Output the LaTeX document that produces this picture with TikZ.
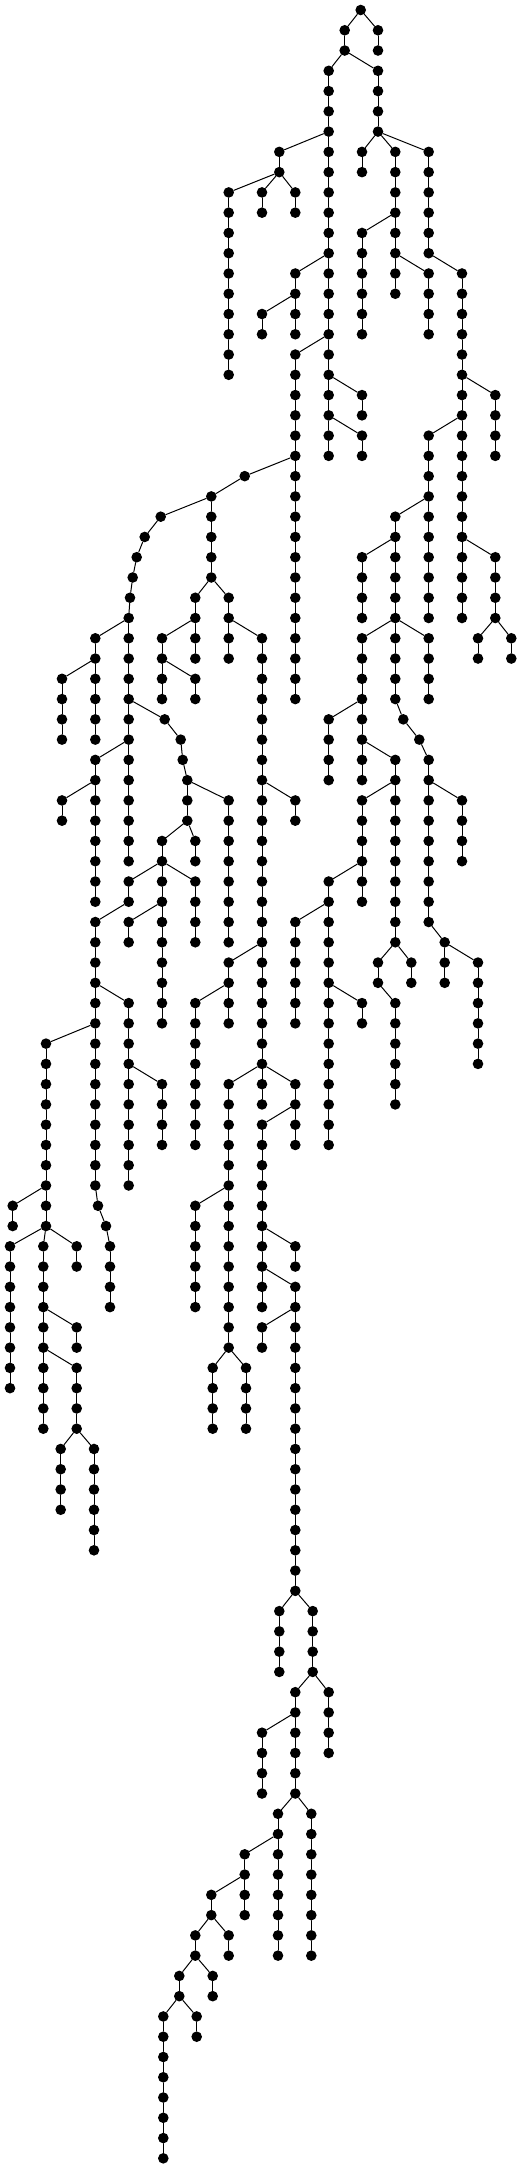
\documentclass[tikz,border=0pt]{standalone}
\begin{document}
\begin{tikzpicture}[x=1pt,y=1pt,line cap=round,line join=round,
  dot/.style={circle,fill=black,inner sep=0pt,minimum size=10.6pt},
  edge/.style={line width=1pt}]
  \useasboundingbox (0,0) rectangle (522,-2169);
  \node[dot] (r-0) at (360.7,-10) {};
  \foreach \nm/\pa/\xx/\a/\b in {
    a/r-0/344.7/1/2, b/r-0/378/1/2,
    m/a-2/328.7/3/22, p/a-2/378/3/6,
    n/m-6/279.3/7/8, n1/n-8/228.7/9/18, n2/n-8/262/9/10, n3/n-8/295.3/9/10,
    m1/m-12/295.3/13/16, m1a/m1-14/262/15/16, q/m-16/295.3/17/34,
    m2/m-18/362/19/20, m3/m-20/362/21/22,
    p1/p-6/362/7/8, p2/p-6/395.3/7/14, p3/p-6/428.7/7/12,
    p2a/p2-10/362/11/16, p2b/p2-12/428.7/13/16,
    s/p3-12/462/13/30, s1/s-18/495.3/19/22, s2/s-20/428.7/21/30,
    s3/s-26/495.3/27/30, s3a/s3-30/478/31/32, s3b/s3-30/511.3/31/32,
    t/s2-24/395.3/25/30, t1/t-26/362/27/30,
    t2/t-30/362/31/38, t3/t-30/395.3/31/34, t4/t-30/428.7/31/34,
    t2a/t2-34/328.7/35/38,
    u/t2-36/395.3/37/46, u1/u-38/362/39/44, u2/u1-42/328.7/43/56,
    u2a/u2-44/295.3/45/50, u2b/u2-48/362/49/50,
    u3/u-46/378/47/48, u4/u-46/411.3/47/48, u5/u3-48/395.3/49/54,
    w0/t3-34/403.3/35/35, w1/w0-35/419.3/36/36, w/w1-36/428.7/37/45,
    w2/w-38/462/39/42, x0/w-45/444.7/46/48, x1/x0-46/478/47/52,
    g0/q-22/244.7/23/23, g/g0-23/211.3/24/28,
    h0/g-24/160.7/25/25, h1/h0-25/144.7/26/26, h2/h1-26/136.7/27/27,
    h3/h2-27/132.7/28/28, h4/h3-28/130/29/29, h/h4-29/128.7/30/42,
    h5/h-30/95.3/31/36, h5a/h5-32/62/33/36,
    h6/h-36/95.3/37/44, h6a/h6-38/62/39/40,
    g1/g-28/195.3/29/32, g1a/g1-30/162/31/34, g1b/g1a-32/195.3/33/34,
    g2/g-28/228.7/29/32, k/g2-30/262/31/52, k1/k-38/295.3/39/40,
    k2/k-46/228.7/47/50, k2a/k2-48/195.3/49/56,
    i0/h-34/164.7/35/35, i1/i0-35/180.7/36/36, i2/i1-36/182.7/37/37,
    i/i2-37/187.3/38/40, i3/i-38/228.7/39/46,
    j/i-40/162/41/42, j1/i-40/195.3/41/42,
    j2/j-42/128.7/43/44, j3/j-42/162/43/50, j4/j-42/195.3/43/46,
    j3a/j3-44/128.7/45/46,
    f/j2-44/95.3/45/58, f1/f-48/128.7/49/58, f1a/f1-52/162/53/56,
    e/f-50/46/51/60, e1/e-58/12.7/59/60,
    e2/e-60/10/61/68, e3/e-60/43.3/61/70, e4/e-60/76.7/61/62,
    e5/e3-64/76.7/65/66, e6/e3-66/76.7/67/70,
    e7/e6-70/60.7/71/74, e8/e6-70/94/71/76,
    f2/f-58/98/59/59, f3/f2-59/106/60/60, f4/f3-60/110/61/64,
    c/k-52/228.7/53/66, c1/c-58/195.3/59/64,
    c2/c-66/212.7/67/70, c3/c-66/246/67/70,
    d1/k-52/262/53/54, d/k-52/295.3/53/56,
    d2/d-54/262/55/64, d3/d2-60/295.3/61/62,
    v/d2-62/295.3/63/78, v1/v-64/262/65/66,
    v2/v-78/279.3/79/82, v3/v-78/312.7/79/82,
    v4/v3-82/328.7/83/86, z/v3-82/295.3/83/88, z1/z-84/262/85/88,
    z2/z-88/311.3/89/96, y/z-88/278/89/96,
    y1/y-90/244.7/91/94, y2/y1-92/211.3/93/94,
    y3/y2-94/228.7/95/96, y4/y2-94/195.3/95/96,
    y5/y4-96/212.7/97/98, y6/y4-96/179.3/97/98,
    y7/y6-98/196.7/99/100, y8/y6-98/163.3/99/106}{
    \foreach \l [remember=\l as \p (initially \a)] in {\a,...,\b}{
      \node[dot] (\nm-\l) at (\xx,{-10-20.267*\l}) {};
      \ifnum\l>\a \draw[edge] (\nm-\p) -- (\nm-\l); \fi
    }
    \draw[edge] (\pa) -- (\nm-\a);
  }
\end{tikzpicture}
\end{document}
